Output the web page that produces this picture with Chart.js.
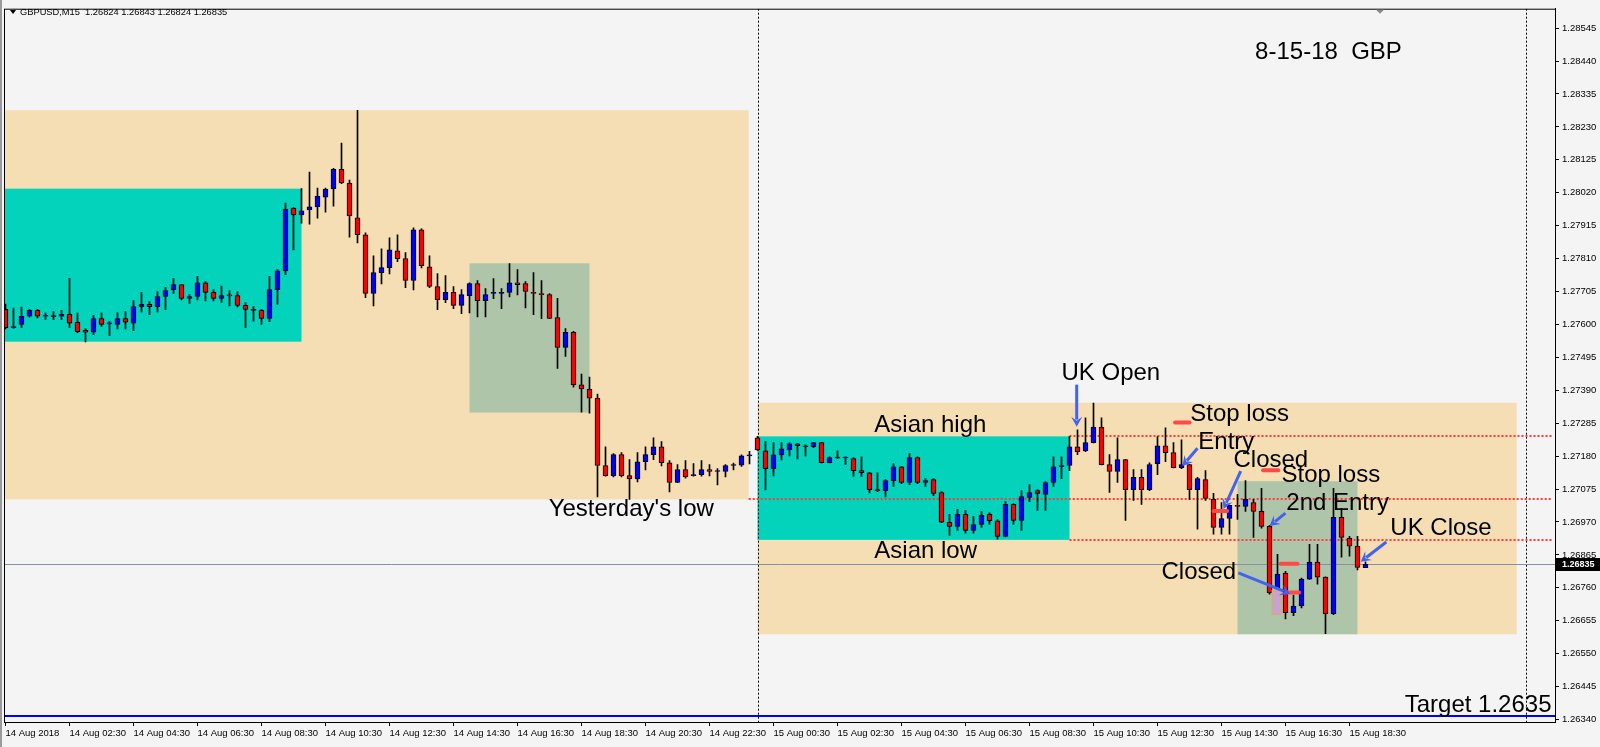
<!DOCTYPE html>
<html>
<head>
<meta charset="utf-8">
<script src="https://cdn.jsdelivr.net/npm/chart.js@4.4.0/dist/chart.umd.min.js"></script>
<style>
  html, body { margin: 0; padding: 0; background: #f4f4f4; }
  #wrap { width: 1600px; height: 747px; }
</style>
</head>
<body>
<div id="wrap"><canvas id="chart" width="1600" height="747"></canvas></div>
<script>
// GBPUSD M15, one entry per bar starting 14 Aug 00:30
const opens = [
  1.27648,1.27590,1.27600,1.27626,1.27645,1.27626,1.27626,1.27626,1.27632,1.27607,
  1.27581,1.27575,1.27619,1.27602,1.27600,1.27619,1.27604,1.27657,1.27664,1.27657,
  1.27689,1.27711,1.27727,1.27683,1.27689,1.27733,1.27702,1.27683,1.27692,1.27692,
  1.27661,1.27648,1.27645,1.27619,1.27711,1.27771,1.27971,1.27949,1.27965,1.27975,
  1.28006,1.28032,1.28095,1.28051,1.27940,1.27886,1.27699,1.27765,1.27781,1.27835,
  1.27810,1.27740,1.27902,1.27784,1.27721,1.27679,1.27702,1.27661,1.27692,1.27730,
  1.27676,1.27699,1.27699,1.27702,1.27733,1.27730,1.27702,1.27698,1.27695,1.27622,
  1.27527,1.27575,1.27407,1.27394,1.27365,1.27150,1.27118,1.27185,1.27118,1.27107,
  1.27162,1.27185,1.27210,1.27159,1.27096,1.27137,1.27118,1.27121,1.27137,1.27131,
  1.27131,1.27150,1.27151,1.27181,1.27238,1.27197,1.27140,1.27184,1.27200,1.27219,
  1.27213,1.27210,1.27223,1.27159,1.27175,1.27174,1.27172,1.27134,1.27127,1.27073,
  1.27070,1.27102,1.27146,1.27096,1.27175,1.27096,1.27105,1.27064,1.26969,1.26956,
  1.26994,1.26943,1.26962,1.26994,1.26974,1.26924,1.27026,1.26975,1.27048,1.27070,
  1.27058,1.27096,1.27146,1.27150,1.27210,1.27197,1.27223,1.27273,1.27153,1.27131,
  1.27169,1.27073,1.27112,1.27073,1.27156,1.27213,1.27191,1.27143,1.27153,1.27073,
  1.27105,1.27042,1.26953,1.26981,1.27023,1.27020,1.27032,1.27004,1.26956,1.26760,
  1.26807,1.26681,1.26702,1.26788,1.26842,1.26794,1.26677,1.26985,1.26918,1.26893,
  1.26824
];
const highs = [
  1.27665,1.27652,1.27655,1.27648,1.27648,1.27636,1.27641,1.27645,1.27747,1.27636,
  1.27587,1.27629,1.27636,1.27610,1.27638,1.27641,1.27676,1.27702,1.27673,1.27705,
  1.27718,1.27747,1.27727,1.27695,1.27753,1.27737,1.27711,1.27722,1.27708,1.27705,
  1.27670,1.27657,1.27648,1.27753,1.27775,1.27987,1.27973,1.28033,1.28086,1.28035,
  1.28035,1.28098,1.28178,1.28060,1.28283,1.27892,1.27819,1.27841,1.27876,1.27886,
  1.27829,1.27908,1.27905,1.27819,1.27762,1.27756,1.27721,1.27711,1.27733,1.27740,
  1.27714,1.27746,1.27714,1.27794,1.27775,1.27737,1.27765,1.27740,1.27698,1.27683,
  1.27587,1.27578,1.27442,1.27432,1.27378,1.27210,1.27188,1.27191,1.27169,1.27191,
  1.27210,1.27238,1.27226,1.27166,1.27153,1.27166,1.27156,1.27166,1.27153,1.27140,
  1.27153,1.27158,1.27184,1.27195,1.27243,1.27226,1.27223,1.27223,1.27223,1.27220,
  1.27216,1.27224,1.27224,1.27178,1.27197,1.27178,1.27175,1.27178,1.27128,1.27127,
  1.27105,1.27156,1.27147,1.27189,1.27178,1.27108,1.27108,1.27067,1.26994,1.27010,
  1.27007,1.26988,1.27004,1.27000,1.26978,1.27035,1.27029,1.27070,1.27089,1.27073,
  1.27099,1.27178,1.27178,1.27242,1.27264,1.27302,1.27349,1.27302,1.27185,1.27238,
  1.27170,1.27137,1.27137,1.27159,1.27242,1.27270,1.27223,1.27232,1.27154,1.27112,
  1.27134,1.27061,1.27032,1.27024,1.27058,1.27102,1.27042,1.27077,1.26959,1.26867,
  1.26813,1.26737,1.26791,1.26899,1.26899,1.26795,1.27077,1.27013,1.26924,1.26924,
  1.26843
];
const lows = [
  1.27586,1.27588,1.27590,1.27623,1.27621,1.27615,1.27615,1.27615,1.27590,1.27574,
  1.27544,1.27567,1.27594,1.27564,1.27586,1.27586,1.27580,1.27640,1.27631,1.27640,
  1.27647,1.27698,1.27678,1.27667,1.27678,1.27675,1.27675,1.27670,1.27659,1.27656,
  1.27590,1.27610,1.27600,1.27609,1.27664,1.27759,1.27838,1.27923,1.27920,1.27939,
  1.27958,1.27977,1.28049,1.27878,1.27860,1.27685,1.27659,1.27729,1.27761,1.27800,
  1.27717,1.27710,1.27780,1.27717,1.27647,1.27669,1.27650,1.27634,1.27637,1.27624,
  1.27624,1.27682,1.27650,1.27688,1.27694,1.27653,1.27631,1.27618,1.27618,1.27460,
  1.27498,1.27400,1.27320,1.27317,1.27050,1.27116,1.27114,1.27114,1.27042,1.27098,
  1.27136,1.27169,1.27149,1.27066,1.27095,1.27110,1.27116,1.27116,1.27117,1.27088,
  1.27114,1.27136,1.27147,1.27155,1.27198,1.27072,1.27117,1.27168,1.27181,1.27171,
  1.27181,1.27207,1.27158,1.27158,1.27172,1.27153,1.27115,1.27115,1.27063,1.27067,
  1.27050,1.27083,1.27092,1.27089,1.27092,1.27083,1.27054,1.26968,1.26927,1.26943,
  1.26934,1.26934,1.26953,1.26962,1.26915,1.26922,1.26962,1.26943,1.27035,1.27007,
  1.27007,1.27083,1.27108,1.27134,1.27185,1.27194,1.27222,1.27152,1.27064,1.27096,
  1.26975,1.27039,1.27026,1.27070,1.27121,1.27162,1.27142,1.27140,1.27042,1.26947,
  1.27039,1.26931,1.26931,1.26931,1.26978,1.27004,1.26921,1.26950,1.26740,1.26742,
  1.26661,1.26671,1.26696,1.26787,1.26772,1.26614,1.26674,1.26858,1.26861,1.26817,
  1.26824
];
const closes = [
  1.27590,1.27592,1.27626,1.27645,1.27626,1.27626,1.27625,1.27632,1.27604,1.27577,
  1.27575,1.27619,1.27600,1.27603,1.27619,1.27607,1.27657,1.27664,1.27657,1.27689,
  1.27708,1.27727,1.27683,1.27689,1.27733,1.27702,1.27683,1.27692,1.27691,1.27661,
  1.27648,1.27645,1.27619,1.27711,1.27771,1.27968,1.27949,1.27962,1.27975,1.28009,
  1.28032,1.28095,1.28051,1.27946,1.27886,1.27699,1.27765,1.27781,1.27838,1.27810,
  1.27740,1.27902,1.27787,1.27721,1.27679,1.27702,1.27661,1.27695,1.27730,1.27676,
  1.27695,1.27699,1.27702,1.27733,1.27727,1.27705,1.27699,1.27695,1.27619,1.27527,
  1.27575,1.27407,1.27394,1.27365,1.27150,1.27118,1.27185,1.27118,1.27107,1.27162,
  1.27185,1.27210,1.27159,1.27096,1.27137,1.27114,1.27121,1.27137,1.27131,1.27133,
  1.27150,1.27151,1.27181,1.27184,1.27200,1.27140,1.27184,1.27203,1.27219,1.27213,
  1.27210,1.27223,1.27159,1.27175,1.27174,1.27175,1.27134,1.27127,1.27073,1.27070,
  1.27102,1.27146,1.27096,1.27175,1.27096,1.27102,1.27061,1.26969,1.26956,1.26994,
  1.26943,1.26962,1.26991,1.26974,1.26924,1.27026,1.26975,1.27051,1.27064,1.27061,
  1.27096,1.27146,1.27150,1.27210,1.27194,1.27223,1.27273,1.27153,1.27131,1.27169,
  1.27073,1.27112,1.27073,1.27153,1.27213,1.27191,1.27143,1.27153,1.27073,1.27108,
  1.27045,1.26953,1.26981,1.27023,1.27020,1.27042,1.27004,1.26956,1.26744,1.26804,
  1.26681,1.26702,1.26788,1.26842,1.26794,1.26677,1.26985,1.26921,1.26893,1.26825,
  1.26835
];

const xTickLabels = ['14 Aug 2018','14 Aug 02:30','14 Aug 04:30','14 Aug 06:30','14 Aug 08:30',
  '14 Aug 10:30','14 Aug 12:30','14 Aug 14:30','14 Aug 16:30','14 Aug 18:30','14 Aug 20:30',
  '14 Aug 22:30','15 Aug 00:30','15 Aug 02:30','15 Aug 04:30','15 Aug 06:30','15 Aug 08:30',
  '15 Aug 10:30','15 Aug 12:30','15 Aug 14:30','15 Aug 16:30','15 Aug 18:30'];
const yTickValues = [1.28545,1.28440,1.28335,1.28230,1.28125,1.28020,1.27915,1.27810,1.27705,
  1.27600,1.27495,1.27390,1.27285,1.27180,1.27075,1.26970,1.26865,1.26760,1.26655,1.26550,
  1.26445,1.26340];

// session boxes (bar index / price)
const WHEAT = '#f5deb3', TEAL = '#03d3bb', SAGE = '#afc5a9';
const zones = [
  { k0: -0.1, k1: 92.9, hi: 1.28283, lo: 1.27042, color: WHEAT },
  { k0: -0.1, k1: 37, hi: 1.28033, lo: 1.27545, color: TEAL },
  { k0: 58, k1: 73, hi: 1.27795, lo: 1.27319, color: SAGE },
  { k0: 94, k1: 188.9, hi: 1.27350, lo: 1.26612, color: WHEAT },
  { k0: 94, k1: 133, hi: 1.27243, lo: 1.26913, color: TEAL },
  { k0: 154, k1: 169, hi: 1.27100, lo: 1.26612, color: SAGE }
];
const levels = [ { k0: 133, p: 1.27243 }, { k0: 92.9, p: 1.27042 }, { k0: 133, p: 1.26913 } ];
const daySeparators = [94, 190];
const targetPrice = 1.2635;

const notes = [
  { text: '8-15-18  GBP', k: 156.2, p: 1.28467 },
  { text: 'Asian high', k: 108.6, p: 1.27279 },
  { text: "Yesterday's low", k: 67.9, p: 1.27011 },
  { text: 'Asian low', k: 108.6, p: 1.26875 },
  { text: 'UK Open', k: 132, p: 1.27444 },
  { text: 'Stop loss', k: 148.1, p: 1.27312 },
  { text: 'Entry', k: 149.1, p: 1.27224 },
  { text: 'Closed', k: 153.5, p: 1.27166 },
  { text: 'Stop loss', k: 159.5, p: 1.27118 },
  { text: '2nd Entry', k: 160.1, p: 1.27028 },
  { text: 'UK Close', k: 173.1, p: 1.26949 },
  { text: 'Closed', k: 144.5, p: 1.26809 },
  { text: 'Target 1.2635', k: 174.9, p: 1.26386 }
];
const arrows = [
  { k0: 133.9, p0: 1.27408, k1: 133.9, p1: 1.27274 },
  { k0: 149, p0: 1.27205, k1: 147.1, p1: 1.27148 },
  { k0: 154.4, p0: 1.27132, k1: 152.25, p1: 1.27011 },
  { k0: 160, p0: 1.26998, k1: 158, p1: 1.26957 },
  { k0: 154.1, p0: 1.26808, k1: 160.6, p1: 1.26741 },
  { k0: 172.6, p0: 1.26906, k1: 169.4, p1: 1.26843 }
];
const dashes = [
  { k0: 146.2, k1: 148, p: 1.27287 },
  { k0: 157.2, k1: 159.1, p: 1.27135 },
  { k0: 159.4, k1: 161.5, p: 1.26837 },
  { k0: 151, k1: 152.7, p: 1.27005 },
  { k0: 160.2, k1: 161.7, p: 1.26745 }
];
const marker = { k0: 158.35, k1: 159.5, hi: 1.26751, lo: 1.26675 };

const bodies = opens.map((o, i) => ({ x: i, y: [Math.min(o, closes[i]), Math.max(o, closes[i])] }));
const wicks = lows.map((l, i) => ({ x: i, y: [l, highs[i]] }));
const bodyColors = opens.map((o, i) => closes[i] >= o ? '#0000ff' : '#ff0000');

function drawArrow(ctx, x1, y1, x2, y2) {
  const a = Math.atan2(y2 - y1, x2 - x1), head = 10, w = 5.5;
  ctx.beginPath();
  ctx.moveTo(x1, y1);
  ctx.lineTo(x2 - Math.cos(a) * head * 0.7, y2 - Math.sin(a) * head * 0.7);
  ctx.stroke();
  ctx.beginPath();
  ctx.moveTo(x2, y2);
  ctx.lineTo(x2 - Math.cos(a) * head + Math.sin(a) * w, y2 - Math.sin(a) * head - Math.cos(a) * w);
  ctx.lineTo(x2 - Math.cos(a) * head * 0.6, y2 - Math.sin(a) * head * 0.6);
  ctx.lineTo(x2 - Math.cos(a) * head - Math.sin(a) * w, y2 - Math.sin(a) * head + Math.cos(a) * w);
  ctx.closePath();
  ctx.fill();
}

const overlay = {
  id: 'overlay',
  beforeDraw(chart) {
    const ctx = chart.ctx;
    ctx.save();
    ctx.fillStyle = '#f4f4f4';
    ctx.fillRect(0, 0, chart.width, chart.height);
    // window edge on the left
    ctx.fillStyle = '#9a9a9a';
    ctx.fillRect(0, 0, 2, chart.height);
    ctx.restore();
  },
  beforeDatasetsDraw(chart) {
    const { ctx, chartArea: ca } = chart;
    const X = v => chart.scales.x.getPixelForValue(v);
    const Y = v => chart.scales.y.getPixelForValue(v);
    ctx.save();
    ctx.beginPath();
    ctx.rect(ca.left, ca.top, ca.right - ca.left, ca.bottom - ca.top);
    ctx.clip();
    zones.forEach(z => {
      ctx.fillStyle = z.color;
      ctx.fillRect(X(z.k0), Y(z.hi), X(z.k1) - X(z.k0), Y(z.lo) - Y(z.hi));
    });
    // day separators
    ctx.strokeStyle = '#000';
    ctx.lineWidth = 1;
    ctx.setLineDash([2, 2]);
    daySeparators.forEach(k => {
      const x = Math.round(X(k)) + 0.5;
      ctx.beginPath(); ctx.moveTo(x, ca.top); ctx.lineTo(x, ca.bottom); ctx.stroke();
    });
    // session levels
    ctx.strokeStyle = '#ff3b3b';
    ctx.lineWidth = 2;
    ctx.setLineDash([2, 2]);
    levels.forEach(l => {
      const y = Math.round(Y(l.p));
      ctx.beginPath(); ctx.moveTo(X(l.k0), y); ctx.lineTo(ca.right - 3, y); ctx.stroke();
    });
    ctx.setLineDash([]);
    // bid line
    ctx.strokeStyle = '#8391a3';
    ctx.lineWidth = 1;
    const yb = Math.round(Y(closes[closes.length - 1])) + 0.5;
    ctx.beginPath(); ctx.moveTo(ca.left, yb); ctx.lineTo(ca.right, yb); ctx.stroke();
    // target line
    ctx.strokeStyle = '#0000ff';
    ctx.lineWidth = 2;
    const yt = Math.round(Y(targetPrice));
    ctx.beginPath(); ctx.moveTo(ca.left, yt); ctx.lineTo(ca.right, yt); ctx.stroke();
    ctx.restore();
  },
  afterDraw(chart) {
    const { ctx, chartArea: ca } = chart;
    const X = v => chart.scales.x.getPixelForValue(v);
    const Y = v => chart.scales.y.getPixelForValue(v);
    ctx.save();
    // selected bar marker
    ctx.fillStyle = '#c9a2cf';
    ctx.strokeStyle = '#c8b27a';
    ctx.lineWidth = 1.5;
    ctx.fillRect(X(marker.k0), Y(marker.hi), X(marker.k1) - X(marker.k0), Y(marker.lo) - Y(marker.hi));
    ctx.strokeRect(X(marker.k0), Y(marker.hi), X(marker.k1) - X(marker.k0), Y(marker.lo) - Y(marker.hi));
    // red dashes
    ctx.strokeStyle = '#ff4848';
    ctx.lineWidth = 4;
    ctx.lineCap = 'round';
    dashes.forEach(d => {
      ctx.beginPath(); ctx.moveTo(X(d.k0), Y(d.p)); ctx.lineTo(X(d.k1), Y(d.p)); ctx.stroke();
    });
    ctx.lineCap = 'butt';
    // arrows
    ctx.strokeStyle = '#4262f2';
    ctx.fillStyle = '#4262f2';
    ctx.lineWidth = 3;
    arrows.forEach(a => drawArrow(ctx, X(a.k0), Y(a.p0), X(a.k1), Y(a.p1)));
    // notes
    ctx.fillStyle = '#000';
    ctx.font = '24px "Liberation Sans", Arial, sans-serif';
    ctx.textAlign = 'left';
    ctx.textBaseline = 'middle';
    notes.forEach(n => ctx.fillText(n.text, X(n.k), Y(n.p)));
    // frame
    ctx.strokeStyle = '#000';
    ctx.lineWidth = 1;
    ctx.strokeRect(ca.left + 0.5, ca.top + 0.5, ca.right - ca.left, ca.bottom - ca.top);
    // header
    ctx.beginPath();
    ctx.moveTo(10, 10); ctx.lineTo(16, 10); ctx.lineTo(13, 14); ctx.closePath();
    ctx.fill();
    ctx.font = '9.3px "Liberation Sans", Arial, sans-serif';
    const n = closes.length - 1;
    ctx.fillText('GBPUSD,M15  ' + [opens[n], highs[n], lows[n], closes[n]].map(v => v.toFixed(5)).join(' '), 20, 12.5);
    // chart shift marker
    ctx.fillStyle = '#8a8a8a';
    ctx.beginPath();
    ctx.moveTo(1376, ca.top + 1); ctx.lineTo(1384, ca.top + 1); ctx.lineTo(1380, ca.top + 5); ctx.closePath();
    ctx.fill();
    // bid price label
    const yb = Math.round(Y(closes[n]));
    ctx.fillStyle = '#000';
    ctx.fillRect(ca.right + 1, yb - 6, chart.width - ca.right - 1, 13);
    ctx.fillStyle = '#fff';
    ctx.font = 'bold 9px "Liberation Sans", Arial, sans-serif';
    ctx.fillText(closes[n].toFixed(5), ca.right + 7, yb + 0.5);
    ctx.restore();
  }
};

Chart.defaults.font.family = '"Liberation Sans", Arial, sans-serif';

new Chart(document.getElementById('chart').getContext('2d'), {
  type: 'bar',
  plugins: [overlay],
  data: {
    datasets: [{
      data: wicks,
      grouped: false,
      order: 2,
      barThickness: 1,
      backgroundColor: '#000',
      borderWidth: 0
    }, {
      data: bodies,
      grouped: false,
      order: 1,
      barThickness: 5,
      minBarLength: 1,
      backgroundColor: bodyColors,
      borderColor: '#000',
      borderWidth: 1,
      borderSkipped: false
    }]
  },
  options: {
    responsive: false,
    devicePixelRatio: 1,
    animation: false,
    events: [],
    layout: { padding: { left: 4, top: 5, right: 0, bottom: 0 } },
    plugins: { legend: { display: false }, tooltip: { enabled: false } },
    scales: {
      x: {
        type: 'linear',
        offset: false,
        min: -0.1875,
        max: 193.6875,
        afterBuildTicks: (scale) => { scale.ticks = xTickLabels.map((_, i) => ({ value: i * 8 })); },
        afterFit: (scale) => { scale.height = 25; },
        grid: { drawOnChartArea: false, drawTicks: true, tickLength: 4, color: '#000', offset: false },
        border: { display: true, color: '#000' },
        ticks: {
          autoSkip: false,
          maxRotation: 0,
          minRotation: 0,
          align: 'start',
          padding: 2,
          color: '#000',
          font: { size: 9.5 },
          callback: (v, i) => xTickLabels[i]
        }
      },
      y: {
        position: 'right',
        min: 1.263321,
        max: 1.286069,
        afterBuildTicks: (scale) => { scale.ticks = yTickValues.map(v => ({ value: v })); },
        afterFit: (scale) => { scale.width = 45; },
        grid: { drawOnChartArea: false, drawTicks: true, tickLength: 4, color: '#000' },
        border: { display: true, color: '#000' },
        ticks: {
          padding: 3,
          color: '#000',
          font: { size: 9.5 },
          callback: (v) => Number(v).toFixed(5)
        }
      }
    }
  }
});
</script>
</body>
</html>
